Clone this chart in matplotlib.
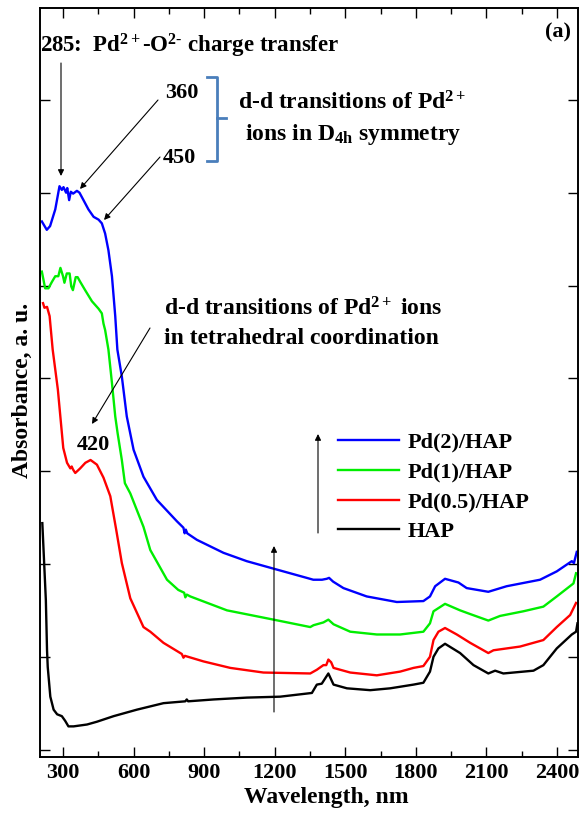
import matplotlib
matplotlib.use('Agg')
import matplotlib.pyplot as plt
from matplotlib.lines import Line2D
from matplotlib.ticker import MultipleLocator

plt.rcParams.update({
    'font.family': ['Liberation Serif', 'DejaVu Serif'],
    'font.weight': 'bold',
    'mathtext.fontset': 'custom',
    'mathtext.rm': 'Liberation Serif:bold',
    'mathtext.it': 'Liberation Serif:bold:italic',
    'mathtext.bf': 'Liberation Serif:bold',
    'mathtext.default': 'rm',
})

# ---------------- data ----------------
pd2_wl = [210, 231, 245, 267, 285, 295, 302, 313, 318, 326, 333, 343, 359, 370, 387, 408, 430, 451, 465, 479,
          493, 508, 522, 531, 550, 571, 600, 642, 699, 784, 812, 817, 822, 828, 869, 982, 1081, 1194, 1336, 1364,
          1401, 1421, 1431, 1448, 1492, 1591, 1719, 1832, 1860, 1882, 1924, 1981, 2016, 2108, 2186, 2328, 2399,
          2463, 2472, 2484]
pd2_ab = [5.69, 5.60, 5.64, 5.82, 6.07, 6.03, 6.06, 6.00, 6.05, 5.92, 6.01, 5.99, 6.02, 6.00, 5.92, 5.82, 5.74,
          5.71, 5.67, 5.56, 5.38, 5.10, 4.67, 4.31, 4.02, 3.59, 3.23, 2.94, 2.69, 2.46, 2.39, 2.33, 2.37, 2.33,
          2.26, 2.12, 2.03, 1.95, 1.85, 1.83, 1.83, 1.84, 1.85, 1.81, 1.74, 1.65, 1.59, 1.60, 1.65, 1.76, 1.84,
          1.80, 1.74, 1.70, 1.76, 1.83, 1.92, 2.03, 2.01, 2.13]

pd1_wl = [210, 224, 238, 253, 267, 280, 289, 300, 306, 316, 328, 335, 342, 354, 362, 373, 394, 423, 451, 465,
          472, 479, 493, 508, 522, 532, 550, 563, 586, 642, 671, 742, 790, 815, 820, 826, 841, 997, 1195, 1351,
          1365, 1407, 1428, 1450, 1521, 1634, 1733, 1832, 1860, 1875, 1924, 1988, 2031, 2108, 2158, 2257, 2342,
          2399, 2470, 2481]
pd1_ab = [5.15, 4.97, 4.97, 5.04, 5.10, 5.10, 5.19, 5.10, 5.03, 5.13, 5.13, 4.99, 4.95, 5.09, 5.09, 5.04, 4.95,
          4.83, 4.75, 4.70, 4.59, 4.52, 4.31, 3.95, 3.59, 3.41, 3.12, 2.87, 2.76, 2.40, 2.15, 1.83, 1.72, 1.69,
          1.64, 1.67, 1.65, 1.50, 1.40, 1.32, 1.34, 1.37, 1.40, 1.35, 1.27, 1.24, 1.24, 1.27, 1.36, 1.49, 1.57,
          1.50, 1.46, 1.39, 1.44, 1.49, 1.54, 1.65, 1.79, 1.90]

pd05_wl = [215, 221, 232, 243, 256, 278, 301, 317, 324, 331, 337, 342, 352, 373, 395, 417, 444, 472, 501, 526,
           550, 586, 642, 671, 727, 805, 812, 818, 897, 1011, 1152, 1351, 1379, 1407, 1419, 1428, 1440, 1450,
           1521, 1634, 1733, 1790, 1832, 1860, 1875, 1896, 1924, 1974, 2031, 2108, 2130, 2243, 2342, 2399,
           2456, 2481]
pd05_ab = [4.81, 4.76, 4.77, 4.67, 4.31, 3.88, 3.25, 3.09, 3.06, 3.03, 3.05, 3.02, 2.98, 3.03, 3.09, 3.12, 3.07,
           2.93, 2.73, 2.37, 2.01, 1.63, 1.32, 1.27, 1.15, 1.03, 0.99, 1.01, 0.95, 0.88, 0.83, 0.82, 0.86, 0.91,
           0.91, 0.97, 0.94, 0.88, 0.83, 0.80, 0.84, 0.88, 0.90, 1.00, 1.18, 1.27, 1.31, 1.24, 1.15, 1.04, 1.07,
           1.11, 1.18, 1.32, 1.45, 1.58]

hap_wl = [212, 227, 232, 235, 246, 260, 275, 295, 309, 323, 345, 402, 444, 515, 614, 727, 820, 826, 832, 940,
          1082, 1223, 1358, 1379, 1400, 1428, 1450, 1507, 1606, 1691, 1790, 1832, 1860, 1875, 1896, 1924, 1988,
          2045, 2108, 2137, 2172, 2300, 2342, 2399, 2463, 2481, 2487]
hap_ab = [2.44, 1.61, 1.07, 0.89, 0.57, 0.43, 0.38, 0.36, 0.31, 0.25, 0.25, 0.27, 0.30, 0.36, 0.43, 0.50, 0.52,
          0.54, 0.52, 0.54, 0.56, 0.57, 0.61, 0.70, 0.71, 0.82, 0.70, 0.66, 0.64, 0.66, 0.70, 0.72, 0.84, 1.00,
          1.09, 1.14, 1.04, 0.91, 0.82, 0.85, 0.82, 0.85, 0.91, 1.09, 1.24, 1.27, 1.36]

series_labels = ['Pd(2)/HAP', 'Pd(1)/HAP', 'Pd(0.5)/HAP', 'HAP']
series_colors = ['#0000ff', '#00ee00', '#ff0000', '#000000']
x_ticks = [300, 600, 900, 1200, 1500, 1800, 2100, 2400]

# ---------------- figure ----------------
W, H = 581, 818
fig = plt.figure(figsize=(W / 100, H / 100), dpi=100)
ax = fig.add_axes([39.5 / W, (H - 757) / H, (577.7 - 39.5) / W, (757 - 8) / H])

lines = []
for wl, ab, c in zip([pd2_wl, pd1_wl, pd05_wl, hap_wl], [pd2_ab, pd1_ab, pd05_ab, hap_ab], series_colors):
    ln, = ax.plot(wl, ab, color=c, lw=1.7, solid_joinstyle='round')
    lines.append(ln)

ax.set_xlim(200, 2488)
ax.set_ylim(-0.08, 7.99)
ax.set_xticks(x_ticks)
ax.set_xticklabels([str(t) for t in x_ticks])
ax.xaxis.set_minor_locator(MultipleLocator(150))
ax.yaxis.set_major_locator(MultipleLocator(1))
ax.tick_params(which='both', direction='in', top=True, right=True, width=1)
ax.tick_params(which='major', length=7, labelsize=16, pad=4)
ax.tick_params(which='minor', length=4)
ax.tick_params(axis='y', labelleft=False)
for s in ax.spines.values():
    s.set_linewidth(1.4)


def F(px, py):
    return (px / W, 1 - py / H)


def T(px, py, s, **kw):
    kw.setdefault('fontsize', 17)
    kw.setdefault('va', 'baseline')
    fig.text(*F(px, py), s, **kw)


def A(x0, y0, x1, y1):
    ax.annotate('', xy=F(x1, y1), xycoords='figure fraction', xytext=F(x0, y0),
                textcoords='figure fraction',
                arrowprops=dict(arrowstyle='-|>', color='k', lw=0.8, mutation_scale=9,
                                shrinkA=0, shrinkB=0))


fig.text(*F(22, 390), 'Absorbance, a. u.', rotation=90, ha='center', va='center', fontsize=17)
fig.text(*F(326, 798), 'Wavelength, nm', ha='center', va='center', fontsize=17)

T(40, 53, r'285:  Pd$^{2+}$-O$^{2\text{-}}$ charge transfer', fontsize=16.5)
T(165, 98, '360', fontsize=16)
T(163, 163, '450', fontsize=16)
T(238, 110, r'd-d transitions of Pd$^{2+}$')
T(245, 140, r'ions in D$_{4h}$ symmetry')
T(545, 37, '(a)', fontsize=16)
T(164, 315, r'd-d transitions of Pd$^{2+}$ ions')
T(164, 344, 'in tetrahedral coordination')
T(77, 450, '420', fontsize=16)

A(61, 63, 61, 176)
A(158, 100, 80, 189)
A(160, 157, 104, 220)
A(150, 328, 92, 424)
A(318, 533, 318, 434)
A(274, 712, 274, 546)

bc = '#4a7ebb'
xs = [207, 217, 217, 207]
ys = [77, 77, 161, 161]
fig.add_artist(Line2D([x / W for x in xs], [1 - y / H for y in ys], color=bc, lw=2,
                      transform=fig.transFigure))
fig.add_artist(Line2D([217 / W, 226 / W], [1 - 118 / H, 1 - 118 / H], color=bc, lw=2,
                      transform=fig.transFigure))

ax.legend(lines, series_labels, loc='upper left', bbox_to_anchor=F(338, 432),
          bbox_transform=fig.transFigure, frameon=False, fontsize=16,
          handlelength=2.75, handletextpad=0.36, labelspacing=0.42, borderpad=0,
          borderaxespad=0)

fig.savefig('out.png', dpi=100)
